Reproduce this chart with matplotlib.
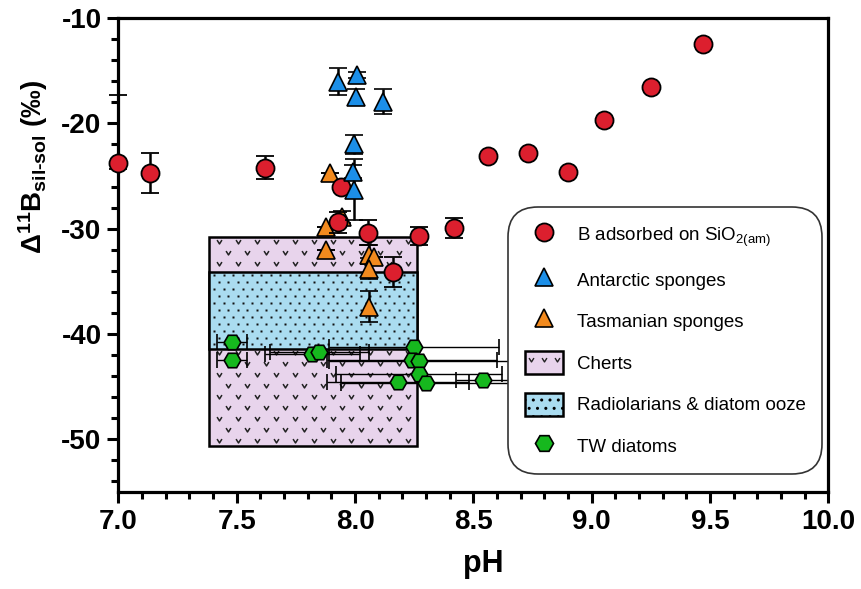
import numpy as np
import matplotlib
matplotlib.use('Agg')
import matplotlib.pyplot as plt
from matplotlib.patches import Rectangle, Patch
from matplotlib.lines import Line2D
from matplotlib.path import Path
from matplotlib.legend_handler import HandlerTuple, HandlerLine2D
from matplotlib.ticker import MultipleLocator, FormatStrFormatter

plt.rcParams['font.family'] = ['Liberation Sans', 'DejaVu Sans']
plt.rcParams['mathtext.fontset'] = 'custom'
plt.rcParams['mathtext.default'] = 'regular'
plt.rcParams['mathtext.rm'] = 'Liberation Sans:bold'

# B adsorbed on amorphous silica
ads_ph = [7.00, 7.134, 7.62, 7.94, 7.93, 8.056, 8.27, 8.16, 8.42, 8.56, 8.73, 8.90, 9.05, 9.25, 9.47]
ads_d = [-23.8, -24.7, -24.2, -26.0, -29.4, -30.4, -30.7, -34.1, -29.9, -23.1, -22.85, -24.6, -19.7, -16.6, -12.5]
ads_lo = [0.5, 1.9, 1.1, 0.0, 1.0, 1.2, 0.9, 1.4, 0.95, 0, 0, 0, 0, 0, 0]
ads_hi = [6.5, 1.9, 1.1, 0.0, 1.0, 1.2, 0.9, 1.4, 0.95, 0, 0, 0, 0, 0, 0]

# Antarctic sponges
ant_ph = [7.93, 8.007, 8.004, 8.12, 7.997, 7.99, 7.997]
ant_d = [-16.05, -15.4, -17.5, -17.95, -22.0, -24.6, -26.3]
ant_err = [1.3, 0.3, 0.8, 1.2, 0.9, 0.6, 2.9]

# Tasmanian sponges
tas_ph = [7.894, 7.944, 7.877, 7.877, 8.06, 8.08, 8.06, 8.06]
tas_d = [-24.75, -28.9, -29.8, -32.0, -32.5, -32.7, -33.8, -37.4]
tas_err = [0.0, 0.6, 0.0, 0.0, 0.9, 0.0, 1.0, 1.5]

# TW diatoms
tw_ph = [7.48, 7.48, 7.82, 7.85, 8.25, 8.24, 8.27, 8.27, 8.18, 8.30, 8.54]
tw_d = [-40.8, -42.5, -41.9, -41.7, -41.2, -42.5, -42.55, -43.8, -44.6, -44.7, -44.4]
tw_xerr = [0.063, 0.063, 0.20, 0.21, 0.36, 0.36, 0.38, 0.35, 0.30, 0.36, 0.114]

# ranges of cherts and radiolarians / diatom ooze
chert_ph = (7.385, 8.26)
chert_d = (-50.6, -30.8)
radio_ph = (7.385, 8.26)
radio_d = (-41.4, -34.1)

red = '#dc1f2e'
blue = '#1c8fe8'
orange = '#f28a1e'
green = '#16b81e'
lilac = '#e8d4ec'
skyblue = '#aadcf0'

vmark = Path([(-1, 1), (0, -0.6), (1, 1)], [Path.MOVETO, Path.LINETO, Path.LINETO])

fig = plt.figure(figsize=(8.62, 5.89), dpi=100)
ax = fig.add_axes([0.1372, 0.1647, 0.8239, 0.8048])


def texture(x0, x1, y0, y1, dx, dy, **kw):
    rows = np.arange(y1 - dy * 0.45, y0, -dy)
    xs, ys = [], []
    for i, yy in enumerate(rows):
        start = x0 + dx * (0.5 if i % 2 == 0 else 1.0)
        cols = np.arange(start, x1 - dx * 0.2, dx)
        xs.extend(cols)
        ys.extend([yy] * len(cols))
    ax.plot(xs, ys, ls='none', **kw)


# cherts box with v pattern
ax.add_patch(Rectangle((chert_ph[0], chert_d[0]), chert_ph[1] - chert_ph[0], chert_d[1] - chert_d[0],
                       fc=lilac, ec='k', lw=1.8, zorder=1))
texture(chert_ph[0], chert_ph[1], chert_d[0], chert_d[1], 0.08, 1.05,
        marker=vmark, ms=3.5, mec='#222222', mfc='none', mew=1.1, zorder=1.1)
# radiolarians & diatom ooze box with dots
ax.add_patch(Rectangle((radio_ph[0], radio_d[0]), radio_ph[1] - radio_ph[0], radio_d[1] - radio_d[0],
                       fc=skyblue, ec='k', lw=1.8, zorder=1.2))
texture(radio_ph[0], radio_ph[1], radio_d[0], radio_d[1], 0.04, 0.66,
        marker='s', ms=1.9, mfc='#111111', mec='none', zorder=1.3)

ax.errorbar(tw_ph, tw_d, xerr=tw_xerr, fmt='H', ms=12, mfc=green, mec='k', mew=1.2,
            ecolor='k', elinewidth=1.0, capsize=6, capthick=1.0, zorder=3)
ax.errorbar(tas_ph, tas_d, yerr=tas_err, fmt='^', ms=13.5, mfc=orange, mec='k', mew=1.2,
            ecolor='k', elinewidth=1.8, capsize=6.5, capthick=1.8, zorder=4)
ax.errorbar(ads_ph, ads_d, yerr=[ads_lo, ads_hi], fmt='o', ms=13, mfc=red, mec='k', mew=1.3,
            ecolor='k', elinewidth=1.8, capsize=6.5, capthick=1.8, zorder=5, clip_on=False)
ax.errorbar(ant_ph, ant_d, yerr=ant_err, fmt='^', ms=13.5, mfc=blue, mec='k', mew=1.2,
            ecolor='k', elinewidth=1.8, capsize=6.5, capthick=1.8, zorder=6)

ax.set_xlim(7, 10)
ax.set_ylim(-55, -10)
ax.xaxis.set_major_locator(MultipleLocator(0.5))
ax.xaxis.set_minor_locator(MultipleLocator(0.1))
ax.xaxis.set_major_formatter(FormatStrFormatter('%.1f'))
ax.yaxis.set_minor_locator(MultipleLocator(2))
ax.set_yticks([-50, -40, -30, -20, -10])
ax.set_yticklabels(['-50', '-40', '-30', '-20', '-10'])

for s in ax.spines.values():
    s.set_linewidth(2.3)
ax.tick_params(which='major', length=8, width=2.2, labelsize=20, pad=4)
ax.tick_params(which='minor', length=5, width=2.2)
for lab in ax.get_xticklabels() + ax.get_yticklabels():
    lab.set_fontweight('bold')

ax.set_xlabel('pH', fontsize=22, fontweight='bold')
ax.set_ylabel(r'$\Delta^{11}$B$_{\text{sil-sol}}$ (‰)', fontsize=20, fontweight='bold')
ax.xaxis.set_label_coords(0.514, -0.12)
ax.yaxis.set_label_coords(-0.096, 0.685)

h_ads = Line2D([], [], ls='none', marker='o', ms=13, mfc=red, mec='k', mew=1.3)
h_ant = Line2D([], [], ls='none', marker='^', ms=13, mfc=blue, mec='k', mew=1.2)
h_tas = Line2D([], [], ls='none', marker='^', ms=13, mfc=orange, mec='k', mew=1.2)
h_chert = Patch(fc=lilac, ec='k', lw=1.8)
h_chert_v = Line2D([], [], ls='none', marker=vmark, ms=3.5, mec='#222222', mfc='none', mew=1.0)
h_radio = Patch(fc=skyblue, ec='k', lw=1.8, hatch='..')
h_tw = Line2D([], [], ls='none', marker='H', ms=13, mfc=green, mec='k', mew=1.2)

leg = ax.legend([h_ads, h_ant, h_tas, (h_chert, h_chert_v), h_radio, h_tw],
                ['B adsorbed on SiO$_{2(am)}$', 'Antarctic sponges', 'Tasmanian sponges',
                 'Cherts', 'Radiolarians & diatom ooze', 'TW diatoms'],
                handler_map={tuple: HandlerTuple(ndivide=1, pad=0),
                             h_chert_v: HandlerLine2D(numpoints=3)},
                loc='upper left', bbox_to_anchor=(0.549, 0.602), fontsize=13.5,
                frameon=True, fancybox=True, edgecolor='#333333', framealpha=1,
                handlelength=2.0, handleheight=1.5, labelspacing=1.0,
                borderpad=0.9, handletextpad=0.75, borderaxespad=0)
frame = leg.get_frame()
frame.set_linewidth(1.2)
frame.set_boxstyle('round', pad=0, rounding_size=1.6)

fig.savefig('out.png', dpi=100)
